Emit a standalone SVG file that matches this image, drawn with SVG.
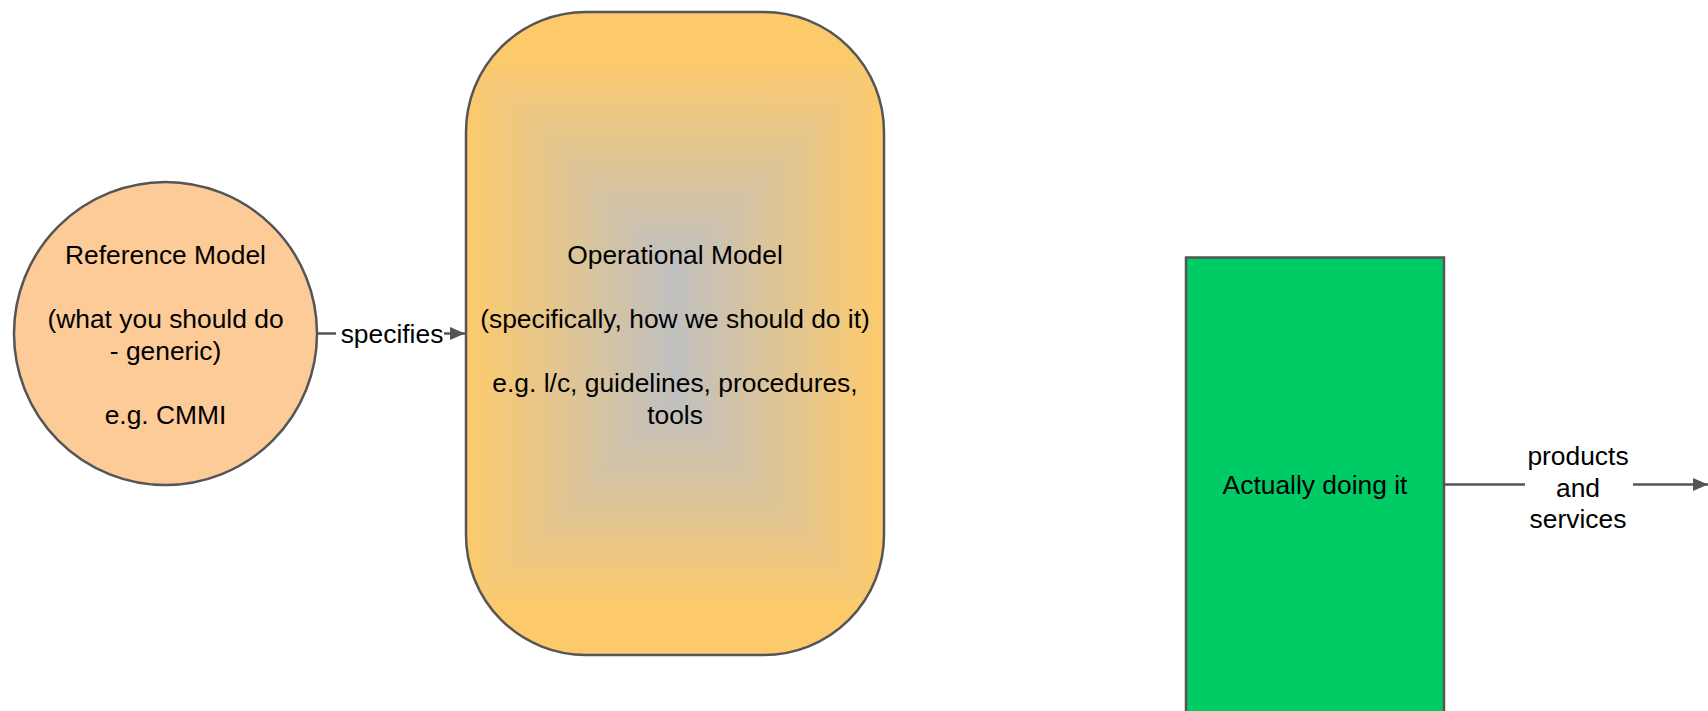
<svg xmlns="http://www.w3.org/2000/svg" width="1708" height="711" viewBox="0 0 1708 711">
  <style>
    .lbl { font-family: "Liberation Sans", Arial, sans-serif; font-size: 26.4px; fill: #000; text-anchor: middle; }
    .edge { fill: none; stroke: #555555; stroke-width: 2.5; }
    .shape { stroke: #555555; stroke-width: 2.5; }
  </style>
  <defs>
    <marker id="arrow" markerUnits="userSpaceOnUse" markerWidth="16" markerHeight="14" refX="15" refY="6.5" orient="auto">
      <path d="M0,0 L15,6.5 L0,13 Z" fill="#555555"/>
    </marker>
    <linearGradient id="gH" gradientUnits="userSpaceOnUse" x1="466" y1="0" x2="884" y2="0">
      <stop offset="0" stop-color="#FDCA6B"/>
      <stop offset="0.5" stop-color="#C0C0C0"/>
      <stop offset="1" stop-color="#FDCA6B"/>
    </linearGradient>
    <linearGradient id="gT" gradientUnits="userSpaceOnUse" x1="0" y1="57" x2="0" y2="266">
      <stop offset="0" stop-color="#FDCA6B"/>
      <stop offset="1" stop-color="#C0C0C0"/>
    </linearGradient>
    <linearGradient id="gB" gradientUnits="userSpaceOnUse" x1="0" y1="610" x2="0" y2="401">
      <stop offset="0" stop-color="#FDCA6B"/>
      <stop offset="1" stop-color="#C0C0C0"/>
    </linearGradient>
    <clipPath id="opClip">
      <rect x="466" y="12" width="418" height="643" rx="120" ry="120"/>
    </clipPath>
  </defs>

  <g id="connectors">
    <path class="edge" d="M317,333.5 L336,333.5"/>
    <path class="edge" d="M444,333.5 L465,333.5" marker-end="url(#arrow)"/>
    <text class="lbl" x="392" y="343.3">specifies</text>
    <path class="edge" d="M1444,484.5 L1525,484.5"/>
    <path class="edge" d="M1633,484.5 L1708,484.5" marker-end="url(#arrow)"/>
    <text class="lbl" x="1578" y="465">products</text>
    <text class="lbl" x="1578" y="496.5">and</text>
    <text class="lbl" x="1578" y="528">services</text>
  </g>

  <g id="reference-model">
    <circle class="shape" cx="165.5" cy="333.5" r="151.5" fill="#FDCB98"/>
    <text class="lbl" x="165.5" y="264">Reference Model</text>
    <text class="lbl" x="165.5" y="328">(what you should do</text>
    <text class="lbl" x="165.5" y="360">- generic)</text>
    <text class="lbl" x="165.5" y="424">e.g. CMMI</text>
  </g>

  <g id="operational-model">
    <g clip-path="url(#opClip)">
      <rect x="466" y="12" width="418" height="643" fill="url(#gH)"/>
      <polygon points="466,0 884,0 884,57 675,266 466,57" fill="url(#gT)"/>
      <polygon points="466,711 884,711 884,610 675,401 466,610" fill="url(#gB)"/>
    </g>
    <rect class="shape" x="466" y="12" width="418" height="643" rx="120" ry="120" fill="none"/>
    <text class="lbl" x="675" y="264">Operational Model</text>
    <text class="lbl" x="675" y="328">(specifically, how we should do it)</text>
    <text class="lbl" x="675" y="392">e.g. l/c, guidelines, procedures,</text>
    <text class="lbl" x="675" y="424">tools</text>
  </g>

  <g id="actually-doing-it">
    <rect class="shape" x="1186" y="257.5" width="258" height="470" fill="#00CC66"/>
    <text class="lbl" x="1315" y="494">Actually doing it</text>
  </g>
</svg>
